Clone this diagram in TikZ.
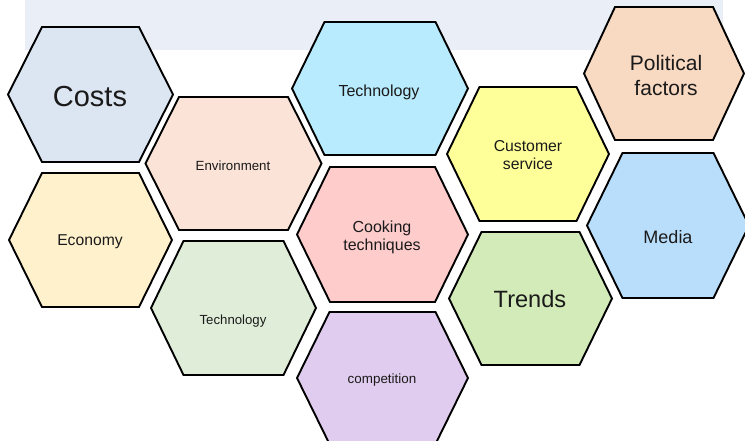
\documentclass[tikz,border=0pt]{standalone}
\usepackage{fontspec}
\setmainfont{Liberation Sans}
\definecolor{bandfill}{HTML}{E9EEF7}
\definecolor{textgrey}{HTML}{1A1A1A}
\definecolor{costsfill}{HTML}{DCE6F2}
\definecolor{envfill}{HTML}{FBE4D7}
\definecolor{econfill}{HTML}{FFF1CC}
\definecolor{techlowfill}{HTML}{E0EED9}
\definecolor{techtopfill}{HTML}{B8EBFE}
\definecolor{cookfill}{HTML}{FFCCCC}
\definecolor{compfill}{HTML}{E0CCEE}
\definecolor{custfill}{HTML}{FFFF99}
\definecolor{trendfill}{HTML}{D2EBB9}
\definecolor{polfill}{HTML}{F8D9C2}
\definecolor{mediafill}{HTML}{B9DEFC}
\tikzset{
  hexline/.style={draw=black, line width=1.9pt, line join=miter},
  label/.style={text=textgrey, inner sep=0pt, align=center},
}
% \hexcell{cx}{cy}{half width}{half top edge}{half height}{fill colour}
\newcommand{\hexcell}[6]{%
  \filldraw[hexline, fill=#6]
    ({#1-#3},#2) -- ({#1-#4},{#2-#5}) -- ({#1+#4},{#2-#5}) -- ({#1+#3},#2)
    -- ({#1+#4},{#2+#5}) -- ({#1-#4},{#2+#5}) -- cycle;}
\newcommand{\fs}[2]{\fontsize{#1pt}{#2pt}\selectfont}
\begin{document}
\begin{tikzpicture}[x=1pt, y=-1pt]
  \useasboundingbox (0,0) rectangle (745,441);
  \clip (0,0) rectangle (745,441);
  % pale band along the top
  \fill[bandfill] (25,0) rectangle (723,50);

  % cells
  \hexcell{90.5}{94.5}{82.5}{48.5}{67.5}{costsfill}
  \hexcell{233.5}{163.5}{88}{54.5}{66.5}{envfill}
  \hexcell{90.5}{240}{81.5}{48.5}{67}{econfill}
  \hexcell{233.5}{308}{82.5}{50}{67}{techlowfill}
  \hexcell{380}{88.5}{88}{55.5}{66.5}{techtopfill}
  \hexcell{382.5}{234.5}{85.5}{52.5}{67.5}{cookfill}
  \hexcell{382.5}{378}{85.5}{53}{66}{compfill}
  \hexcell{528}{154}{81}{48.5}{67}{custfill}
  \hexcell{530.5}{298.5}{81.5}{49}{66.5}{trendfill}
  \hexcell{664}{73.5}{80}{49}{66.5}{polfill}
  \hexcell{668}{225.5}{81}{45.5}{72.5}{mediafill}

  % labels
  \node[label, anchor=base, font=\fs{29}{33}] (costs) at (90,107) {Costs};
  \node[label, anchor=base, font=\fs{13.3}{15}] (environment) at (233,170.5) {Environment};
  \node[label, anchor=base, font=\fs{15.7}{18}] (economy) at (90,246) {Economy};
  \node[label, anchor=base, font=\fs{13.2}{15}] (techlow) at (233,324.5) {Technology};
  \node[label, anchor=base, font=\fs{16}{18}] (techtop) at (379,96.5) {Technology};
  \node[label, font=\fs{16}{18}] (cooking) at (382,237.5) {Cooking\\techniques};
  \node[label, anchor=base, font=\fs{13.4}{15}] (competition) at (382,383.3) {competition};
  \node[label, font=\fs{15.8}{18}] (customer) at (528,155) {Customer\\service};
  \node[label, anchor=base, font=\fs{23.6}{27}] (trends) at (530,307.7) {Trends};
  \node[label, font=\fs{21}{25}] (political) at (666,75) {Political\\factors};
  \node[label, anchor=base, font=\fs{18}{21}] (media) at (668,243.3) {Media};
\end{tikzpicture}
\end{document}
